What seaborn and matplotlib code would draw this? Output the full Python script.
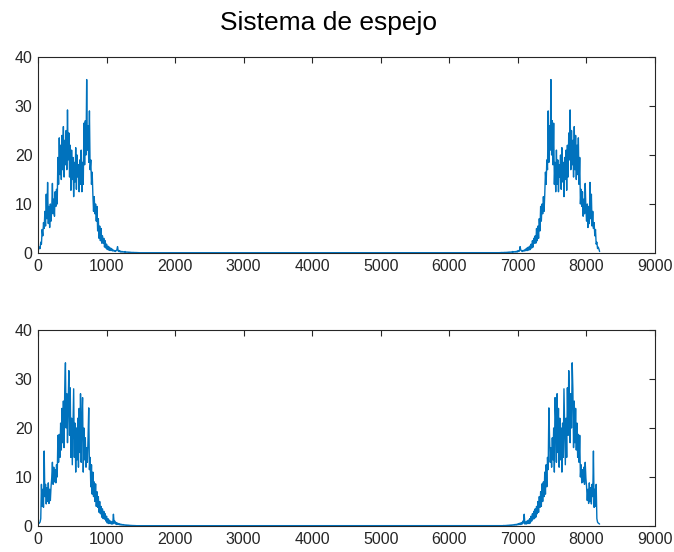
import numpy as np
import pandas as pd
import matplotlib
matplotlib.use("Agg")
import matplotlib.pyplot as plt
import seaborn as sns

# Spectrum samples (index 0..1500, step 10)
bin_step = 10
n_fft = 8192
top_left = [
    0.3, 0.8, 1.2, 0.9, 2.2, 1.8, 4.8, 3.5, 6.2, 5.0,
    8.5, 5.5, 12.0, 7.0, 14.4, 6.0, 9.5, 5.2, 10.0, 6.5,
    9.0, 14.2, 8.0, 11.0, 7.5, 12.5, 9.5, 13.0, 10.0, 19.5,
    14.0, 23.5, 16.0, 22.0, 15.0, 24.0, 17.0, 25.8, 15.5, 23.0,
    18.0, 25.0, 17.0, 29.2, 19.0, 24.5, 15.5, 22.0, 12.8, 21.0,
    15.0, 19.5, 11.5, 18.5, 14.5, 21.5, 13.0, 20.0, 15.5, 18.0,
    12.5, 19.0, 14.0, 21.0, 12.5, 18.5, 14.0, 26.5, 18.0, 27.0,
    20.0, 35.4, 21.0, 26.0, 18.5, 29.0, 17.0, 19.0, 14.0, 16.5,
    12.0, 8.5, 11.5, 8.0, 10.0, 6.5, 9.5, 4.5, 7.0, 3.0,
    5.5, 2.5, 5.0, 2.0, 3.5, 2.0, 3.0, 1.2, 2.5, 1.0,
    1.8, 0.7, 1.4, 0.6, 1.2, 0.5, 1.0, 0.5, 0.8, 0.4,
    0.6, 0.4, 0.5, 0.3, 0.5, 0.6, 1.3, 0.4, 0.3, 0.5,
    0.2, 0.35, 0.2, 0.3, 0.2, 0.25, 0.15, 0.3, 0.15, 0.2,
    0.15, 0.2, 0.12, 0.18, 0.1, 0.15, 0.1, 0.12, 0.1, 0.12,
    0.08, 0.1, 0.08, 0.1, 0.07, 0.08, 0.06, 0.07, 0.05, 0.06,
    0.05,
]
bottom_left = [
    0.4, 0.5, 0.6, 0.8, 1.5, 8.5, 4.0, 7.5, 3.8, 15.3,
    6.0, 8.5, 4.5, 7.8, 5.0, 8.8, 4.6, 7.5, 5.2, 8.0,
    9.8, 13.0, 8.5, 12.0, 9.0, 11.5, 8.8, 12.5, 10.0, 18.5,
    13.0, 18.7, 14.0, 21.0, 15.5, 24.0, 17.0, 25.5, 16.0, 28.0,
    33.3, 20.0, 27.0, 17.0, 25.0, 31.7, 18.5, 28.2, 14.0, 22.0,
    12.5, 20.0, 28.0, 14.0, 21.0, 11.0, 20.0, 13.5, 22.0, 12.0,
    24.0, 15.0, 27.0, 13.0, 22.0, 26.2, 11.0, 20.0, 13.5, 18.0,
    12.0, 16.0, 13.0, 18.0, 24.1, 11.5, 14.0, 8.0, 12.5, 6.5,
    11.0, 6.0, 9.0, 5.0, 8.6, 4.0, 7.0, 3.8, 6.0, 2.8,
    5.0, 2.5, 4.0, 1.8, 3.5, 1.5, 3.0, 1.4, 2.5, 1.0,
    2.0, 0.6, 1.5, 0.5, 1.2, 0.5, 1.0, 0.4, 0.8, 0.4,
    2.4, 0.6, 1.0, 0.4, 0.7, 0.3, 0.6, 0.3, 0.5, 0.25,
    0.4, 0.2, 0.35, 0.2, 0.3, 0.18, 0.25, 0.15, 0.22, 0.12,
    0.2, 0.12, 0.18, 0.1, 0.15, 0.1, 0.12, 0.09, 0.1, 0.08,
    0.1, 0.07, 0.08, 0.06, 0.07, 0.06, 0.06, 0.05, 0.05, 0.05,
    0.05,
]
title = "Sistema de espejo"
x_ticks = [0, 1000, 2000, 3000, 4000, 5000, 6000, 7000, 8000, 9000]
y_ticks = [0, 10, 20, 30, 40]


def mirrored_frame(left_vals):
    left_vals = np.asarray(left_vals, dtype=float)
    k = np.arange(len(left_vals)) * bin_step
    # mirror system: second half is the reflection of the first
    x = np.concatenate([k, n_fft - k[::-1]])
    y = np.concatenate([left_vals, left_vals[::-1]])
    return pd.DataFrame({"x": x, "y": y})


sns.set_theme(style="white")
plt.rcParams["font.family"] = ["Liberation Sans", "DejaVu Sans"]

fig = plt.figure(figsize=(6.74, 5.52), dpi=100)
ax1 = fig.add_axes([0.0564, 0.5417, 0.9154, 0.3550])
ax2 = fig.add_axes([0.0564, 0.0471, 0.9154, 0.3551])

for ax, vals in ((ax1, top_left), (ax2, bottom_left)):
    df = mirrored_frame(vals)
    sns.lineplot(data=df, x="x", y="y", ax=ax, color="#0072BD",
                 linewidth=1.0, estimator=None, sort=True)
    ax.set_xlim(0, 9000)
    ax.set_ylim(0, 40)
    ax.set_xticks(x_ticks)
    ax.set_yticks(y_ticks)
    ax.set_xlabel("")
    ax.set_ylabel("")
    ax.tick_params(direction="in", length=4, width=0.8, colors="#262626",
                   labelsize=11.5, top=True, right=True, pad=4)
    ax.tick_params(axis="both", labelcolor="#262626")
    for s in ax.spines.values():
        s.set_color("#262626")
        s.set_linewidth(0.8)
        s.set_visible(True)

fig.text(0.487, 0.958, title, ha="center", va="center", fontsize=19,
         color="black")

fig.savefig("out.png", dpi=100, facecolor="white")
